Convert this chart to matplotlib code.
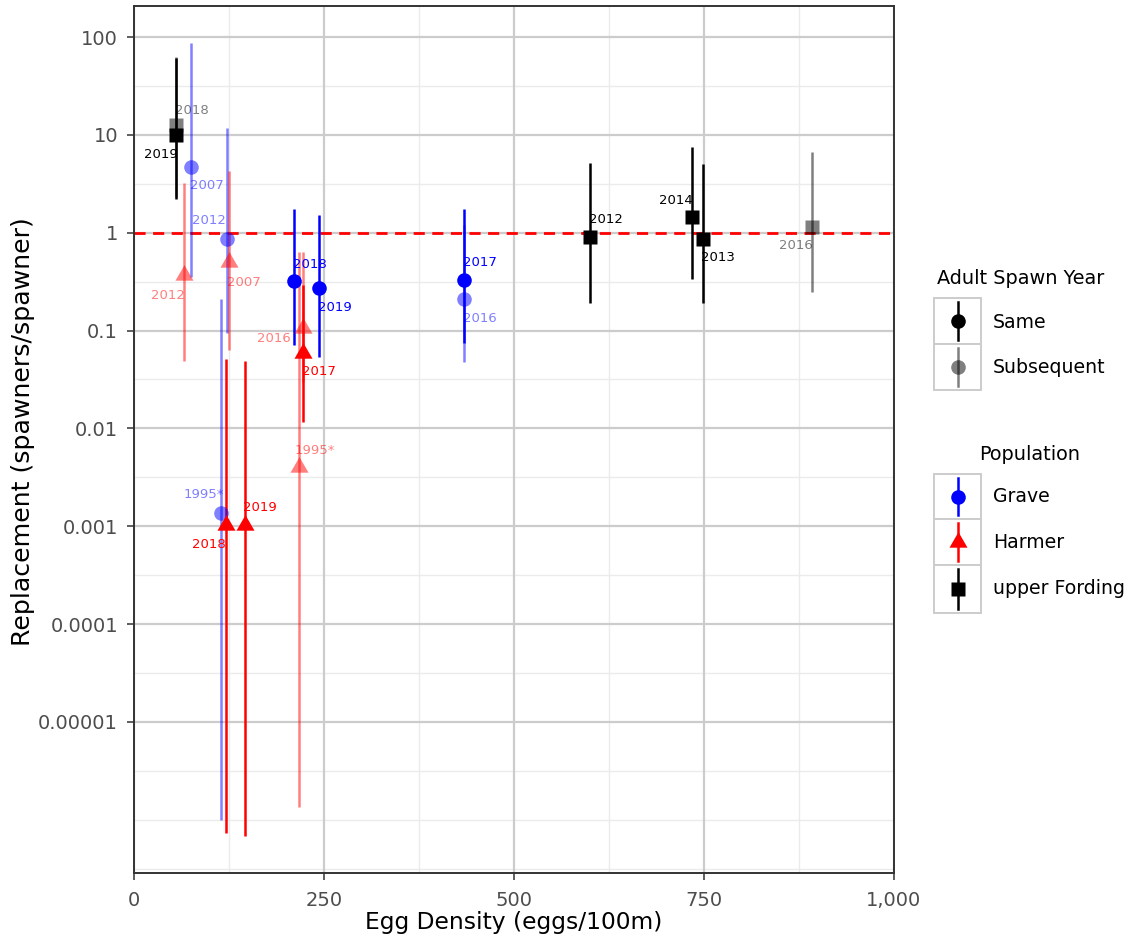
import matplotlib
matplotlib.use("Agg")
import matplotlib.pyplot as plt
from matplotlib.lines import Line2D
from matplotlib.patches import Rectangle
import numpy as np

plt.rcParams['font.family'] = ['DejaVu Sans']

# ---------------- data ----------------
population = ['upper Fording'] * 6 + ['Grave'] * 7 + ['Harmer'] * 7
label_year = ['2019', '2018', '2012', '2014', '2013', '2016',
              '2007', '2012', '2018', '2019', '2017', '2016', '1995*',
              '2012', '2007', '2016', '2017', '1995*', '2018', '2019']
spawn_year = ['Same', 'Subsequent', 'Same', 'Same', 'Same', 'Subsequent',
              'Subsequent', 'Subsequent', 'Same', 'Same', 'Same', 'Subsequent', 'Subsequent',
              'Subsequent', 'Subsequent', 'Subsequent', 'Same', 'Subsequent', 'Same', 'Same']
egg_density = [55, 55, 600, 733.6, 749, 892,
               75, 122, 210, 243, 434, 434, 114,
               66, 125, 223, 223, 216.5, 121, 146]
replacement = [10, 12.7, 0.91, 1.46, 0.87, 1.15,
               4.7, 0.87, 0.32, 0.27, 0.33, 0.21, 0.00138,
               0.37, 0.50, 0.107, 0.059, 0.0040, 0.00103, 0.00103]
lower_ci = [2.2, 2.3, 0.19, 0.34, 0.19, 0.25,
            0.355, 0.095, 0.072, 0.054, 0.075, 0.048, 1.0e-6,
            0.049, 0.063, 0.03, 0.0117, 1.35e-6, 7.4e-7, 6.9e-7]
upper_ci = [61, 63, 5.2, 7.6, 5.0, 6.7,
            86, 11.8, 1.76, 1.53, 1.76, 1.2, 0.21,
            3.2, 4.3, 0.64, 0.29, 0.64, 0.051, 0.049]

x_ticks = [0, 250, 500, 750, 1000]
x_ticklabels = ['0', '250', '500', '750', '1,000']
y_ticks = [100, 10, 1, 0.1, 0.01, 0.001, 0.0001, 0.00001]
y_ticklabels = ['100', '10', '1', '0.1', '0.01', '0.001', '0.0001', '0.00001']

# ---------------- style ----------------
pop_color = {'Grave': '#0000FF', 'Harmer': '#FF0000', 'upper Fording': '#000000'}
tri = [(-1, -0.577), (1, -0.577), (0, 1.155)]
pop_marker = {'Grave': 'o', 'Harmer': tri, 'upper Fording': 's'}
pop_ms = {'Grave': 10.5, 'Harmer': 15, 'upper Fording': 10.5}
spawn_alpha = {'Same': 1.0, 'Subsequent': 0.5}
# label offsets in pixels (dx, dy with dy positive downward)
label_offsets = [(-15, 20), (16, -14), (16, -17), (-16, -16), (15, 19), (-16, 19),
                 (16, 19), (-18, -18), (16, -17), (16, 19), (16, -17), (16, 19), (-17, -18),
                 (-16, 21), (15, 20), (-30, 11), (15, 19), (16, -17), (-17, 20), (15, -17)]

W, H = 1128, 941
fig = plt.figure(figsize=(W / 100, H / 100), dpi=100)
ax = fig.add_axes([134 / W, 1 - 873 / H, (894 - 134) / W, (873 - 6) / H])
ax.set_yscale('log')
ax.set_xlim(0, 1000)
ax.set_ylim(10 ** -6.544, 10 ** 2.317)

# grid
for v in [125, 375, 625, 875]:
    ax.axvline(v, color='#EBEBEB', lw=1.0, zorder=0)
for e in np.arange(-6.5, 2.5, 0.5):
    if e != int(e) or e == -6:
        ax.axhline(10 ** e, color='#EBEBEB', lw=1.0, zorder=0)
for v in x_ticks:
    ax.axvline(v, color='#CCCCCC', lw=1.6, zorder=0)
for v in y_ticks:
    ax.axhline(v, color='#CCCCCC', lw=1.6, zorder=0)

ax.axhline(1, color='#FF0000', lw=2.0, ls=(0, (4, 2.7)), zorder=1)

# draw: subsequent first, then same
order = sorted(range(len(population)), key=lambda i: 0 if spawn_year[i] == 'Subsequent' else 1)
for i in order:
    p = population[i]
    c = pop_color[p]
    a = spawn_alpha[spawn_year[i]]
    ax.plot([egg_density[i], egg_density[i]], [lower_ci[i], upper_ci[i]],
            color=c, alpha=a, lw=1.8, solid_capstyle='butt', zorder=2)
    ax.plot([egg_density[i]], [replacement[i]], marker=pop_marker[p], ms=pop_ms[p],
            color=c, alpha=a, mec='none', ls='none', zorder=3)
    dx, dy = label_offsets[i]
    ax.annotate(label_year[i], (egg_density[i], replacement[i]),
                xytext=(dx * 0.72, -dy * 0.72), textcoords='offset points',
                ha='center', va='center', fontsize=9.5, color=c, alpha=a, zorder=4)

ax.set_xticks(x_ticks)
ax.set_xticklabels(x_ticklabels)
ax.set_yticks(y_ticks)
ax.set_yticklabels(y_ticklabels)
ax.yaxis.set_minor_locator(matplotlib.ticker.NullLocator())
ax.tick_params(axis='both', length=5, width=1.1, color='#333333', labelcolor='#4D4D4D',
               labelsize=14)
ax.tick_params(axis='x', pad=8)
ax.tick_params(axis='y', pad=6.5)
for s in ax.spines.values():
    s.set_color('#333333')
    s.set_linewidth(1.4)
ax.set_xlabel('Egg Density (eggs/100m)', fontsize=16.8, va='center')
ax.xaxis.set_label_coords(0.5, -(923 - 873) / 867)
ax.set_ylabel('Replacement (spawners/spawner)', fontsize=18.2, va='center')
ax.yaxis.set_label_coords((23 - 134) / 760, (873 - 432) / 867)

# ---------------- legends (figure coordinates in pixels) ----------------
def fx(px):
    return px / W

def fy(py):
    return 1 - py / H

def key(y0, y1, color, alpha, marker, ms):
    fig.add_artist(Rectangle((fx(934), fy(y1)), fx(981) - fx(934), fy(y0) - fy(y1),
                             transform=fig.transFigure, fc='white', ec='#CCCCCC', lw=1.4))
    xm = fx(957.5)
    fig.add_artist(Line2D([xm, xm], [fy(y0 + 4), fy(y1 - 4)], transform=fig.transFigure,
                          color=color, alpha=alpha, lw=1.8))
    fig.add_artist(Line2D([xm], [fy((y0 + y1) / 2)], transform=fig.transFigure, marker=marker,
                          ms=ms, color=color, alpha=alpha, mec='none', ls='none'))

fig.text(fx(1021), fy(279), 'Adult Spawn Year', ha='center', va='center', fontsize=13.9)
key(298, 344, '#000000', 1.0, 'o', 10.5)
key(344, 390, '#000000', 0.5, 'o', 10.5)
fig.text(fx(993), fy(322), 'Same', ha='left', va='center', fontsize=13.6)
fig.text(fx(993), fy(367), 'Subsequent', ha='left', va='center', fontsize=13.6)

fig.text(fx(1030), fy(454), 'Population', ha='center', va='center', fontsize=13.9)
key(474, 519, '#0000FF', 1.0, 'o', 10.5)
key(519, 565, '#FF0000', 1.0, tri, 15)
key(565, 613, '#000000', 1.0, 's', 10.5)
fig.text(fx(993), fy(497), 'Grave', ha='left', va='center', fontsize=13.6)
fig.text(fx(993), fy(542), 'Harmer', ha='left', va='center', fontsize=13.6)
fig.text(fx(993), fy(589), 'upper Fording', ha='left', va='center', fontsize=13.6)

fig.savefig('out.png', dpi=100)
